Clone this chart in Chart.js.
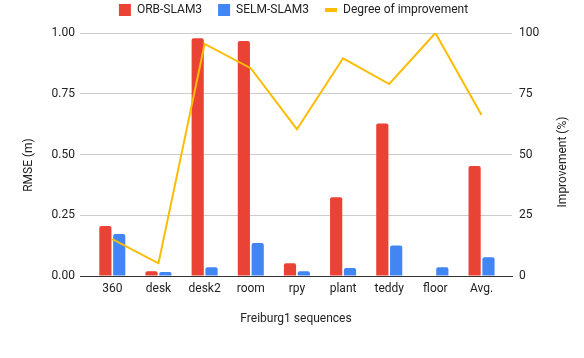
<!DOCTYPE html>
<html>
<head>
<meta charset="utf-8">
<script src="https://cdn.jsdelivr.net/npm/chart.js@4.4.1/dist/chart.umd.min.js"></script>
<style>
html, body { margin: 0; padding: 0; background: #fff; }
#wrap { width: 584px; height: 358px; }
</style>
</head>
<body>
<div id="wrap"><canvas id="chart" width="584" height="358"></canvas></div>
<script>
// Data
const categories = ['360', 'desk', 'desk2', 'room', 'rpy', 'plant', 'teddy', 'floor', 'Avg.'];
const orbSlam = [0.206, 0.020, 0.978, 0.967, 0.052, 0.324, 0.628, null, 0.453];
const selmSlam = [0.173, 0.016, 0.036, 0.136, 0.020, 0.033, 0.126, 0.036, 0.077];
const improvement = [15.2, 5.2, 95.5, 85.5, 60.4, 89.6, 79.0, 100, 66.3];

const RED = '#ea4335';
const BLUE = '#4285f4';
const YELLOW = '#fbbc04';
const TEXT = '#222222';

Chart.defaults.font.family = 'Roboto';
Chart.defaults.font.size = 12;
Chart.defaults.color = TEXT;

// little dash used as legend marker for the line
const dash = document.createElement('canvas');
dash.width = 12;
dash.height = 4;
const dctx = dash.getContext('2d');
dctx.fillStyle = YELLOW;
dctx.fillRect(0, 0, 12, 4);

const toXY = arr => arr.map((v, i) => ({ x: i, y: v }));

// axis titles: the right one reads bottom-to-top, so draw both by hand
const axisTitles = {
    id: 'axisTitles',
    beforeInit(chart) {
        const lg = chart.legend;
        if (!lg) return;
        const fit = lg.fit;
        lg.fit = function () { fit.call(this); this.height = 45; };
    },
    afterDraw(chart) {
        const ctx = chart.ctx;
        ctx.save();
        ctx.font = '12px Roboto';
        ctx.fillStyle = TEXT;
        ctx.textAlign = 'center';
        ctx.textBaseline = 'middle';
        [[29, 165, 'RMSE (m)'], [563, 162, 'Improvement (%)']].forEach(([x, y, t]) => {
            ctx.save();
            ctx.translate(x, y);
            ctx.rotate(-Math.PI / 2);
            ctx.fillText(t, 0, 0);
            ctx.restore();
        });
        ctx.restore();
    }
};

const chart = new Chart(document.getElementById('chart'), {
    type: 'bar',
    data: {
        datasets: [
            {
                type: 'line',
                label: 'Degree of improvement',
                data: toXY(improvement),
                yAxisID: 'y1',
                borderColor: YELLOW,
                backgroundColor: YELLOW,
                borderWidth: 2,
                pointRadius: 0,
                pointStyle: dash,
                tension: 0,
                order: 0
            },
            {
                label: 'ORB-SLAM3',
                data: toXY(orbSlam),
                yAxisID: 'y',
                backgroundColor: RED,
                borderRadius: 2,
                pointStyle: 'rect',
                categoryPercentage: 0.6,
                barPercentage: 0.88,
                order: 1
            },
            {
                label: 'SELM-SLAM3',
                data: toXY(selmSlam),
                yAxisID: 'y',
                backgroundColor: BLUE,
                borderRadius: 2,
                pointStyle: 'rect',
                categoryPercentage: 0.6,
                barPercentage: 0.88,
                order: 1
            }
        ]
    },
    options: {
        responsive: false,
        animation: false,
        layout: { padding: { top: -12, left: 3, right: 0, bottom: 0 } },
        plugins: {
            tooltip: { enabled: false },
            legend: {
                position: 'top',
                labels: {
                    usePointStyle: true,
                    boxWidth: 12,
                    boxHeight: 12,
                    padding: 16,
                    color: TEXT,
                    sort: (a, b) => [1, 2, 0].indexOf(a.datasetIndex) - [1, 2, 0].indexOf(b.datasetIndex)
                }
            }
        },
        scales: {
            x: {
                type: 'linear',
                offset: false,
                min: -0.7,
                max: 8.66,
                afterBuildTicks: axis => { axis.ticks = categories.map((c, i) => ({ value: i })); },
                afterFit: scale => { scale.height = 82; },
                grid: { display: false, drawTicks: false, offset: false },
                border: { display: true, color: '#333333' },
                ticks: {
                    autoSkip: false,
                    maxRotation: 0,
                    padding: 6,
                    color: TEXT,
                    callback: v => categories[v] ?? ''
                },
                title: {
                    display: true,
                    text: 'Freiburg1 sequences',
                    color: TEXT,
                    padding: { top: 0, bottom: 32 }
                }
            },
            y: {
                position: 'left',
                min: 0,
                max: 1,
                afterFit: scale => { scale.width = 77; },
                grid: { color: '#cccccc', drawTicks: false },
                border: { display: false },
                ticks: {
                    stepSize: 0.25,
                    padding: 5,
                    color: TEXT,
                    callback: v => v.toFixed(2)
                }
            },
            y1: {
                position: 'right',
                min: 0,
                max: 100,
                afterFit: scale => { scale.width = 72; },
                grid: { display: false, drawTicks: false },
                border: { display: false },
                ticks: {
                    stepSize: 25,
                    padding: 7,
                    color: TEXT
                }
            }
        }
    },
    plugins: [axisTitles]
});
</script>
</body>
</html>
